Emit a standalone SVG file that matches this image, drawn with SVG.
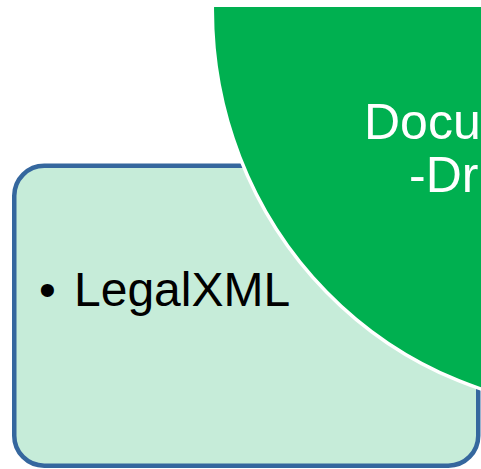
<svg xmlns="http://www.w3.org/2000/svg" width="481" height="469" viewBox="0 0 481 469">
<style>
.box{fill:#C6ECD9;stroke:#35679E;stroke-width:4.5}
.circ{fill:#00B050;stroke:#FFFFFF;stroke-width:3.5}
.ct{font-family:"Liberation Sans",Arial,sans-serif;font-size:50px;fill:#FFFFFF}
.bt{font-family:"Liberation Sans",Arial,sans-serif;font-size:48px;fill:#000000}
</style>
<defs>
<clipPath id="clipTop"><rect x="0" y="7" width="481" height="462"/></clipPath>
</defs>
<rect width="481" height="469" fill="#FFFFFF"/>
<g id="box">
<rect class="box" x="14.25" y="165.75" width="464" height="300" rx="30" ry="30"/>
<text class="bt" y="306"><tspan x="39">•</tspan><tspan x="74">LegalXML</tspan></text>
</g>
<g id="circle" clip-path="url(#clipTop)">
<ellipse class="circ" cx="602" cy="10" rx="389.7" ry="398.7"/>
<text class="ct" x="364" y="139">Docu</text>
<text class="ct" x="409" y="192">-Dr</text>
</g>
<g id="connectors"/>
</svg>
